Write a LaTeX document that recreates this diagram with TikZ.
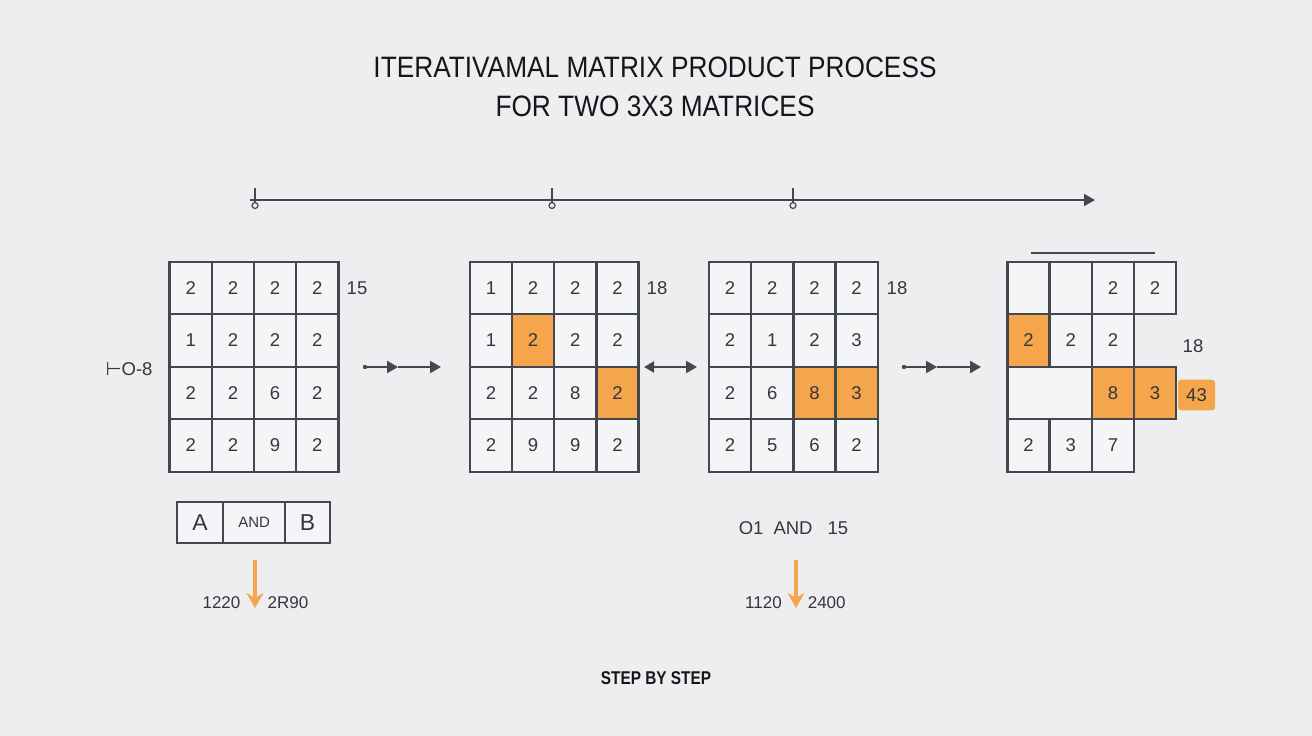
\documentclass[tikz,border=0pt]{standalone}
\usepackage{fontspec}
\setmainfont{Liberation Sans}
\newfontfamily\titlefont[FakeStretch=0.89]{Liberation Sans}
\newfontfamily\stepfont[FakeStretch=0.83]{Liberation Sans}
\newfontfamily\symfont{DejaVu Sans}
\usetikzlibrary{arrows.meta,positioning}
\definecolor{ink}{HTML}{44474D}
\definecolor{txt}{HTML}{33363C}
\definecolor{dark}{HTML}{151619}
\definecolor{hl}{HTML}{F5A54B}
\definecolor{paper}{HTML}{EDEEF0}
\definecolor{cellbg}{HTML}{F4F5F6}

\begin{document}
\begin{tikzpicture}[x=1pt,y=-1pt]
  \tikzstyle{cell} = [rectangle, draw=ink, line width=2.4pt, fill=cellbg, inner sep=0pt,
    minimum width=42.2pt, minimum height=52.5pt, text=txt, font=\fontsize{18.5}{20}\selectfont]
  \tikzstyle{lbl} = [text=txt, inner sep=0pt, font=\fontsize{18.5}{20}\selectfont]
  \tikzstyle{num} = [text=txt, inner sep=0pt, font=\fontsize{17}{19}\selectfont]
  \tikzstyle{box} = [rectangle, draw=ink, line width=2pt, fill=cellbg, inner sep=0pt,
    outer sep=0pt, minimum height=41.6pt, text=txt]
  \tikzstyle{flow} = [draw=ink, line width=2.2pt, -{Triangle[length=11pt,width=12pt]}]
  \tikzstyle{down} = [draw=hl, line width=3.2pt, -{Stealth[length=15pt,width=17pt,inset=5pt]}]
  \tikzstyle{tick} = [draw=ink, line width=1.2pt]

  \useasboundingbox[fill=paper] (0,0) rectangle (1312,736);

  \node[text=dark, align=center, inner sep=0pt,
    font=\titlefont\fontsize{29.5}{38.4}\selectfont] (title) at (655,86.7)
    {ITERATIVAMAL MATRIX PRODUCT PROCESS\\FOR TWO 3X3 MATRICES};

  % timeline
  \coordinate (t0) at (250,200);
  \coordinate (t4) at (1095,200);
  \draw[flow] (t0) -- (t4);
  \foreach \x [count=\n] in {255,552,793} {
    \coordinate (k\n) at (\x,200);
    \draw[tick] (\x,188) -- (\x,202);
    \draw[tick] (\x,205.5) circle (3pt);
  }

  % first matrix
  \foreach \row [count=\r] in {{2,2,2,2},{1,2,2,2},{2,2,6,2},{2,2,9,2}}
    \foreach \v [count=\c] in \row
      \node[cell] (a\r\c) at ({169.6+(\c-0.5)*42.2},{261.7+(\r-0.5)*52.5}) {\v};

  % second matrix
  \begin{scope}[hot22/.style={fill=hl}, hot34/.style={fill=hl}]
  \foreach \row [count=\r] in {{1,2,2,2},{1,2,2,2},{2,2,8,2},{2,9,9,2}}
    \foreach \v [count=\c] in \row
      \node[cell, hot\r\c/.try] (b\r\c) at ({469.8+(\c-0.5)*42.2},{261.7+(\r-0.5)*52.5}) {\v};
  \end{scope}

  % third matrix
  \begin{scope}[hot33/.style={fill=hl}, hot34/.style={fill=hl}]
  \foreach \row [count=\r] in {{2,2,2,2},{2,1,2,3},{2,6,8,3},{2,5,6,2}}
    \foreach \v [count=\c] in \row
      \node[cell, hot\r\c/.try] (c\r\c) at ({708.9+(\c-0.5)*42.2},{261.7+(\r-0.5)*52.5}) {\v};
  \end{scope}

  % last matrix
  \node[cell] (d11) at (1028.5,288) {};
  \node[cell] (d12) at (1070.7,288) {};
  \node[cell] (d13) at (1112.9,288) {2};
  \node[cell] (d14) at (1155.1,288) {2};
  \node[cell, fill=hl] (d21) at (1028.5,340.5) {2};
  \node[cell] (d22) at (1070.7,340.5) {2};
  \node[cell] (d23) at (1112.9,340.5) {2};
  \node[cell, minimum width=84.4pt] (d31) at (1049.6,393) {};
  \node[cell, fill=hl] (d33) at (1112.9,393) {8};
  \node[cell, fill=hl] (d34) at (1155.1,393) {3};
  \node[cell] (d41) at (1028.5,445.5) {2};
  \node[cell] (d42) at (1070.7,445.5) {3};
  \node[cell] (d43) at (1112.9,445.5) {7};
  \node[lbl, fill=hl, rounded corners=3pt, minimum width=37pt, minimum height=30.7pt]
    (tag) at (1196.5,395) {43};
  \coordinate (bar0) at (1031,253);
  \coordinate (bar1) at (1155,253);
  \draw[ink, line width=2pt] (bar0) -- (bar1);

  % side labels
  \node[lbl] (s1) at (357,288) {15};
  \node[lbl] (s2) at (657,288) {18};
  \node[lbl] (s3) at (897,288) {18};
  \node[lbl] (s4) at (1193,346) {18};
  \node[lbl] (h8) at (129,369) {{\symfont ⊢}O-8};

  % arrows between steps
  \coordinate (p1) at (365,367); \coordinate (q1) at (398,367); \coordinate (r1) at (441,367);
  \fill[ink] (p1) circle (2.2pt);
  \draw[flow] (p1) -- (q1);
  \draw[flow] (q1) -- (r1);
  \coordinate (u1) at (644,367); \coordinate (u2) at (697,367);
  \draw[flow, {Triangle[length=10pt,width=11pt]}-{Triangle[length=11pt,width=12pt]}] (u1) -- (u2);
  \coordinate (p3) at (904,367); \coordinate (q3) at (937,367); \coordinate (r3) at (981,367);
  \fill[ink] (p3) circle (2.2pt);
  \draw[flow] (p3) -- (q3);
  \draw[flow] (q3) -- (r3);

  % A and B
  \node[box, minimum width=45.5pt, font=\fontsize{23}{24}\selectfont] (bA) at (200.15,522.5) {A};
  \node[box, minimum width=62.4pt, font=\fontsize{15}{16}\selectfont, right=0pt of bA] (bAND) {AND};
  \node[box, minimum width=44.6pt, font=\fontsize{23}{24}\selectfont, right=0pt of bAND] (bB) {B};
  \node[lbl] (pair) at (793.5,528) {O1\hspace{10pt}AND\hspace{15pt}15};

  % results
  \coordinate (o1) at (255,560); \coordinate (o2) at (255,608);
  \draw[down] (o1) -- (o2);
  \node[num] (n1) at (221.5,603) {1220};
  \node[num] (n2) at (288,603) {2R90};
  \coordinate (o3) at (796,560); \coordinate (o4) at (796,608);
  \draw[down] (o3) -- (o4);
  \node[num] (n3) at (763.5,603) {1120};
  \node[num] (n4) at (826.7,603) {2400};

  \node[text=dark, inner sep=0pt, font=\stepfont\bfseries\fontsize{18.5}{20}\selectfont]
    (foot) at (656,678) {STEP BY STEP};
\end{tikzpicture}
\end{document}
